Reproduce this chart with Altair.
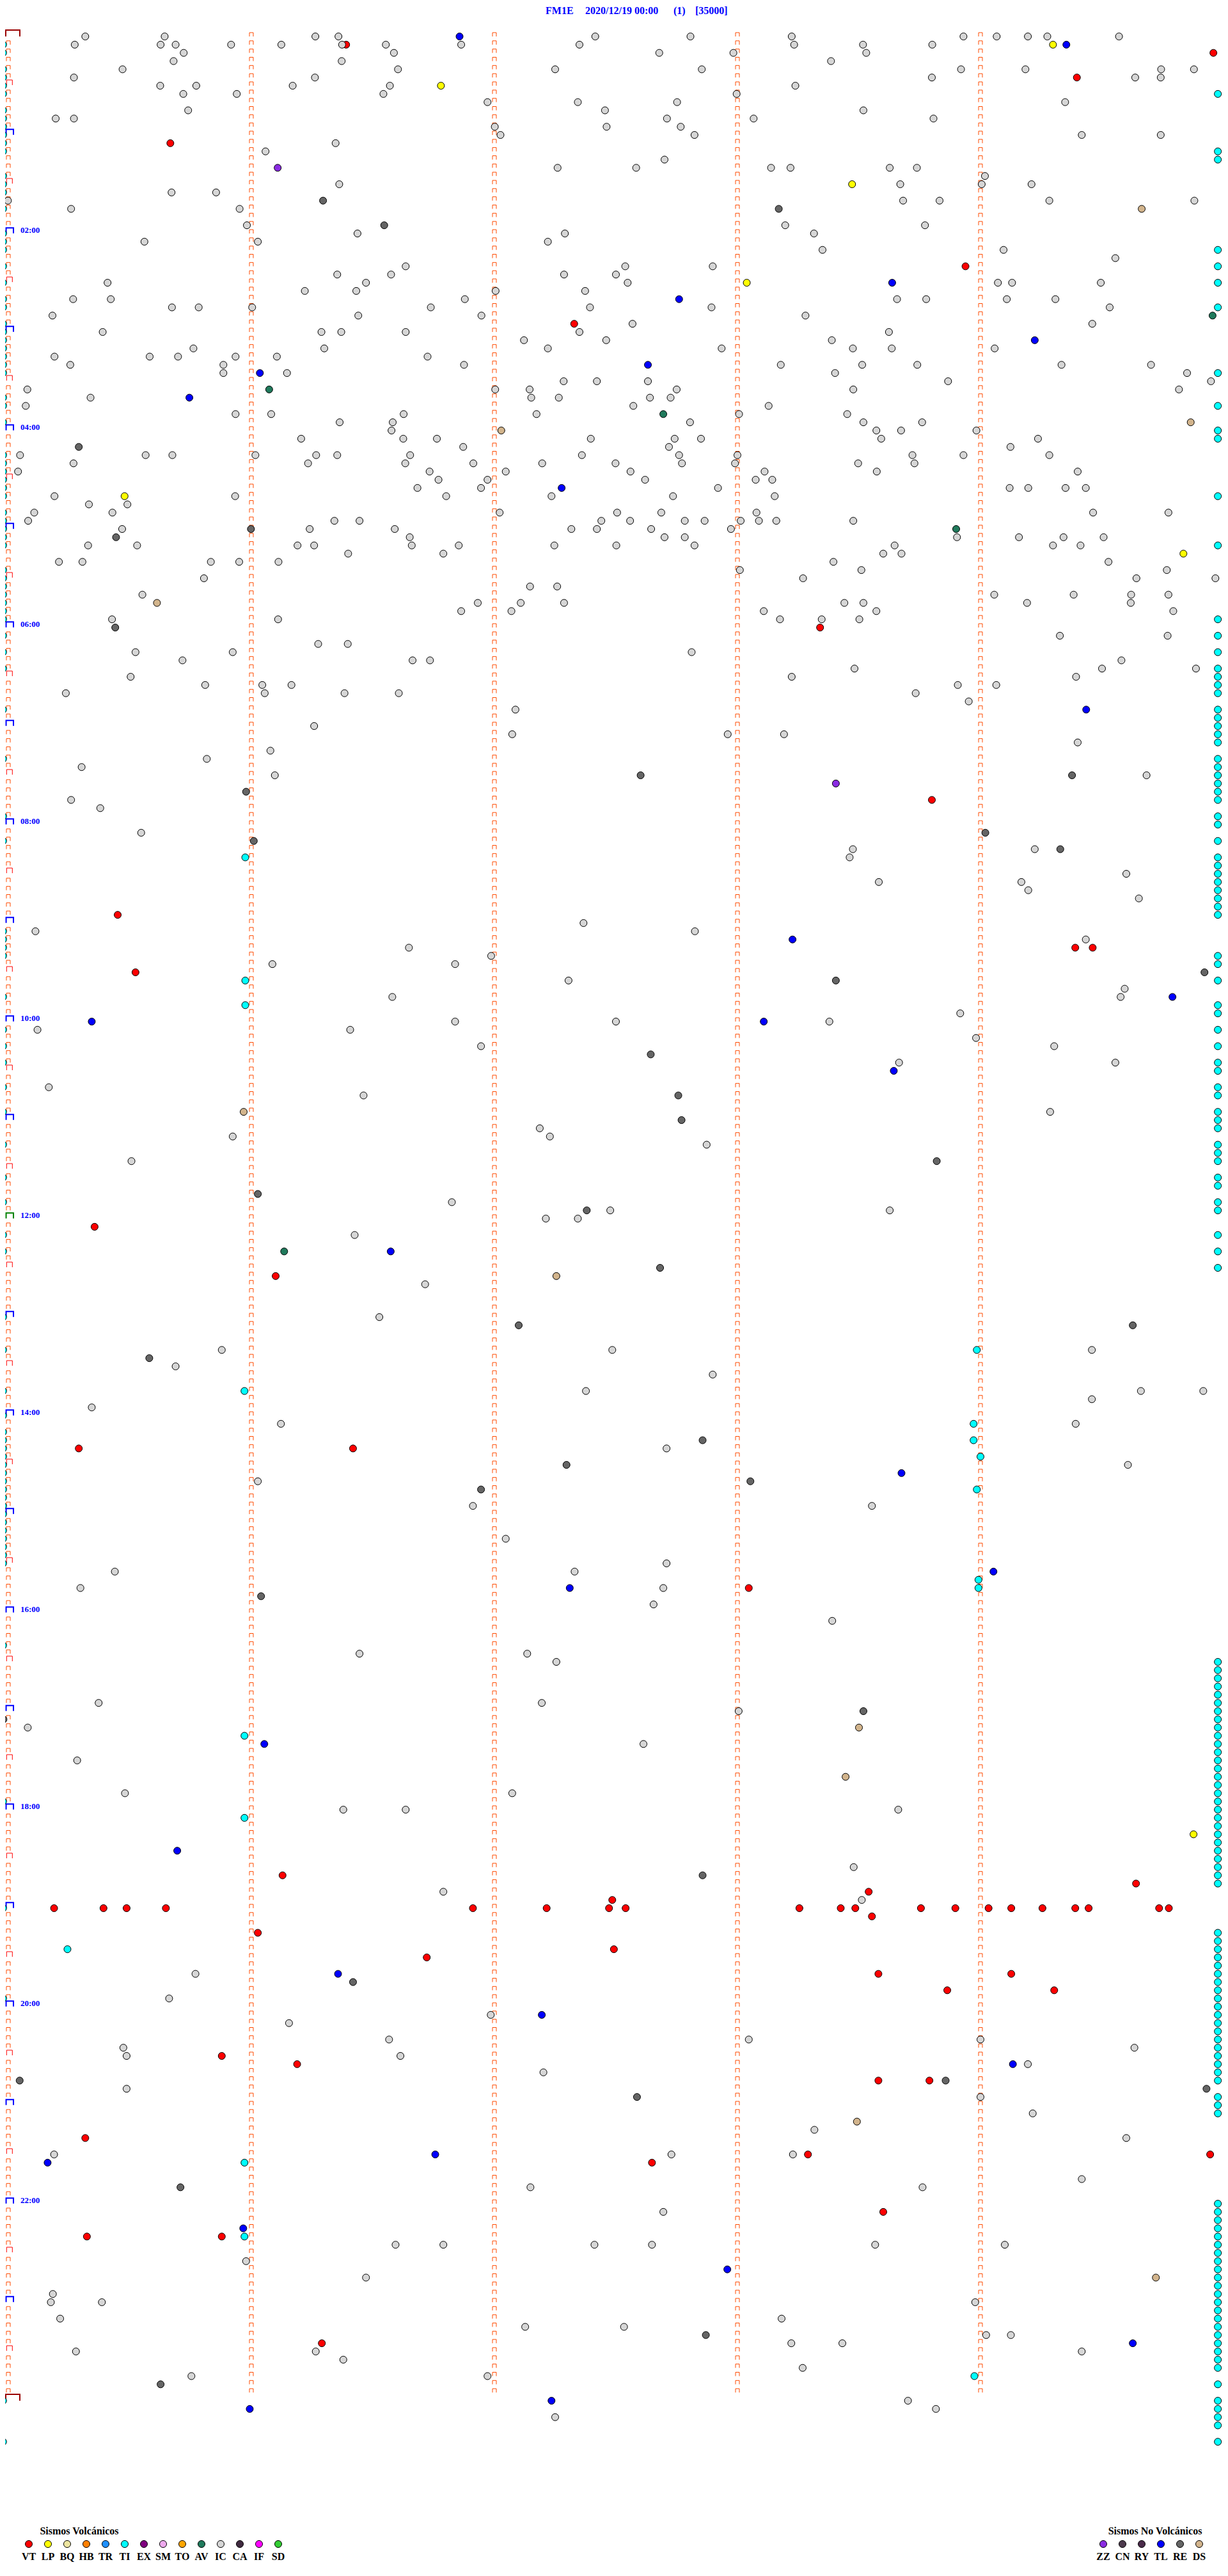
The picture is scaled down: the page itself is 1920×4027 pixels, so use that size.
import altair as alt
import pandas as pd

# ---------------- data: (row = 5-minute slot since 2020/12/19 00:00, sec = seconds inside the slot)
VT = [(1,83.4),(2,297.5),(5,263.8),(13,40.0),(28,236.3),(35,139.7),(72,200.4),(93,228.0),(107,27.0),
      (111,263.4),(111,267.7),(114,31.4),(145,21.3),(151,66.0),(172,17.4),(172,85.1),(189,182.8),
      (224,67.7),(225,278.4),(226,212.4),(227,149.1),(228,11.3),(228,23.5),(228,29.2),(228,38.9),
      (228,114.7),(228,132.9),(228,148.3),(228,152.4),(228,195.3),(228,205.5),(228,209.1),(228,225.3),
      (228,233.8),(228,242.0),(228,247.6),(228,255.3),(228,263.4),(228,266.7),(228,284.1),(228,286.5),
      (229,213.2),(231,61.6),(233,149.5),(234,103.3),(236,214.8),(236,247.6),(238,231.8),(238,258.2),
      (246,52.7),(247,71.3),(249,214.8),(249,227.4),(256,19.0),(258,197.4),(258,296.7),(259,158.9),
      (265,216.0),(268,19.4),(268,52.7),(281,77.4)]
LP = [(1,257.9),(6,106.8),(18,208.3),(30,182.3),(56,28.7),(63,290.1),(219,292.6)]
ZZ = [(16,66.5),(91,204.3)]
AV = [(34,297.3),(43,64.4),(46,161.7),(60,234.0),(148,68.1)]
DS = [(21,279.8),(47,291.9),(48,121.7),(69,36.7),(131,58.1),(151,135.3),(206,210.0),(212,206.7),
      (254,209.5),(273,283.3)]
TL = [(0,111.4),(1,261.2),(30,218.2),(32,165.6),(37,253.4),(40,157.9),(41,62.1),(44,44.7),(55,136.6),
      (82,266.1),(110,193.6),(117,287.4),(120,20.6),(120,186.5),(126,218.6),(148,94.4),(175,220.5),
      (187,243.2),(189,138.6),(208,63.2),(221,41.7),(236,81.4),(241,131.7),(247,248.0),(258,105.4),
      (259,9.7),(267,58.0),(272,177.5),(281,277.6),(288,134.1),(289,59.6)]
RE = [(20,77.7),(21,190.2),(23,92.8),(50,17.4),(60,59.9),(61,26.6),(72,26.4),(90,156.1),(90,262.6),
      (92,58.7),(97,241.2),(98,60.6),(99,259.7),(114,295.3),(115,204.3),(124,158.6),(129,165.4),
      (132,166.2),(137,229.2),(141,61.6),(143,142.8),(150,160.9),(157,126.0),(157,277.6),(161,34.8),
      (171,171.4),(174,137.8),(176,183.2),(177,116.7),(190,62.4),(204,211.1),(205,-1.2),(224,171.4),
      (237,85.1),(249,2.8),(249,231.4),(250,295.8),(251,155.2),(262,42.5),(280,172.2),(286,37.6)]
TI = [(100,58.5),(115,58.5),(118,58.5),(160,239.1),(165,58.3),(169,238.3),(171,238.3),(173,240.0),
      (177,239.1),(188,239.5),(189,239.5),(207,58.3),(217,58.3),(233,14.6),(259,58.3),(268,58.3),
      (285,238.5)]
TI_LEFT_SEC = -1.3
TI_RIGHT_SEC = 298.6
TI_LEFT_ROWS = [1,2,4,5,6,7,9,10,11,12,13,14,17,18,19,20,21,24,25,26,28,30,32,33,35,36,37,38,39,40,41,
                44,45,47,51,52,53,54,55,56,58,59,60,61,62,65,66,67,68,69,70,71,73,75,77,82,88,95,98,
                109,110,111,112,117,121,123,125,128,131,135,139,142,146,148,156,160,165,168,170,171,172,
                173,174,175,176,177,178,179,180,181,182,183,184,185,186,196,215,228,239,288,293]
TI_RIGHT_ROWS = [7,14,15,26,28,30,33,41,45,48,49,56,62,71,73,75,77,78,79,80,82,83,84,85,86,88,89,90,91,
                 92,93,95,96,98,100,101,102,103,104,105,106,107,112,113,115,118,119,121,123,125,126,128,
                 129,131,132,133,135,136,137,139,140,142,143,146,148,150,
                 198,199,200,201,202,203,204,205,206,207,208,209,210,211,212,213,214,215,216,217,218,219,
                 220,221,222,223,224,225,231,232,233,234,235,236,237,238,239,240,241,242,243,244,245,246,
                 247,248,249,251,252,253,264,265,266,267,268,269,270,271,272,273,274,275,276,277,278,279,
                 280,281,282,283,284,286,288,289,290,291,293]

IC_00_06 = [(0,19.0),(0,38.6),(0,75.8),(0,81.5),(0,144.9),(0,168.4),(0,193.4),(0,235.8),(0,244.0),(0,251.7),
    (0,256.5),(0,274.2),(1,16.4),(1,37.6),(1,41.3),(1,55.0),(1,67.4),(1,82.4),(1,93.2),(1,111.8),(1,141.0),
    (1,194.0),(1,211.0),(1,228.1),(2,43.3),(2,95.2),(2,160.7),(2,179.0),(2,211.8),(3,40.8),(3,82.3),(3,203.1),
    (4,28.2),(4,96.2),(4,135.0),(4,171.2),(4,235.2),(4,251.1),(4,284.6),(4,292.7),(5,16.2),(5,75.7),(5,228.0),
    (5,278.2),(5,284.5),(6,37.5),(6,46.4),(6,70.2),(6,94.2),(6,194.3),(7,43.2),(7,56.4),(7,92.6),(7,179.8),
    (8,118.3),(8,140.6),(8,165.1),(8,260.9),(9,44.4),(9,147.3),(9,211.1),(10,11.7),(10,16.2),(10,162.6),
    (10,184.0),(10,228.4),(11,120.1),(11,147.7),(11,166.0),(12,121.5),(12,169.4),(12,265.0),(12,284.5),
    (13,80.8),(14,63.5),(15,162.0),(16,135.6),(16,155.0),(16,188.3),(16,193.1),(16,217.6),(16,224.3),
    (17,241.1),(18,81.7),(18,220.2),(18,240.3),(18,252.6),(19,40.3),(19,51.3),(20,-0.1),(20,220.9),
    (20,229.9),(20,257.0),(20,292.8),(21,15.5),(21,57.1),(23,58.9),(23,191.8),(23,226.3),(24,86.2),
    (24,137.4),(24,198.9),(25,33.6),(25,61.6),(25,133.2),(26,201.0),(26,245.7),(27,273.3),(28,98.1),
    (28,152.3),(28,173.9),(29,81.2),(29,94.5),(29,137.2),(29,150.0),(30,24.5),(30,88.3),(30,152.9),
    (30,244.3),(30,247.8),(30,269.7),(31,73.2),(31,85.9),(31,120.3),(31,142.4),(32,16.0),(32,25.3),
    (32,112.7),(32,219.4),(32,226.6),(32,246.5),(32,258.5),(33,40.4),(33,47.0),(33,60.2),(33,104.3),
    (33,143.6),(33,173.6),(33,271.9),(34,10.9),(34,86.4),(34,116.8),(34,196.8),(35,154.1),(35,267.6),
    (36,23.3),(36,77.3),(36,82.2),(36,98.1),(36,141.0),(36,217.4),(37,127.3),(37,147.6),(37,203.3),
    (38,45.7),(38,78.0),(38,133.2),(38,176.1),(38,208.5),(38,218.1),(38,243.5),(39,11.4),(39,34.9),
    (39,41.9),(39,56.1),(39,66.3),(39,103.5),(40,15.3),(40,53.1),(40,112.5),(40,190.7),(40,210.8),
    (40,224.4),(40,260.0),(40,282.1),(41,53.1),(41,68.8),(41,204.1),(41,291.0),(42,137.1),(42,145.3),
    (42,157.9),(42,232.0),(42,296.9),(43,4.7),(43,120.2),(43,128.7),(43,165.0),(43,208.6),(43,289.0),
    (44,20.3),(44,129.1),(44,135.9),(44,158.4),(44,163.5),(45,4.3),(45,154.3),(45,187.7),(46,56.1),
    (46,64.9),(46,97.6),(46,130.4),(46,180.4),(46,207.1),(47,81.8),(47,94.9),(47,168.3),(47,211.1),
    (47,225.6),(48,94.6),(48,214.3),(48,220.4),(48,239.0),(49,72.3),(49,97.5),(49,105.8),(49,143.8),
    (49,164.5),(49,171.0),(49,215.5),(49,254.2),(50,112.3),(50,163.1),(50,247.4),(51,2.9),(51,33.9),
    (51,40.5),(51,61.0),(51,76.0),(51,81.2),(51,99.2),(51,141.6),(51,165.6),(51,180.0),(51,223.2),
    (51,235.8),(51,257.0),(52,16.1),(52,74.0),(52,98.0),(52,114.8),(52,131.8),(52,149.9),(52,166.3),
    (52,179.4),(52,209.8),(52,223.7),(53,2.4),(53,104.0),(53,122.8),(53,153.6),(53,186.7),(53,214.4),
    (53,264.0),(54,106.2),(54,118.3),(54,157.2),(54,184.5),(54,188.6),(55,101.0),(55,116.7),(55,175.2),
    (55,247.2),(55,251.8),(55,261.0),(55,266.0),(56,11.4),(56,56.0),(56,108.1),(56,134.1),(56,164.1),
    (56,189.2),(57,19.9),(57,29.4),(58,6.4),(58,25.7),(58,121.3),(58,150.3),(58,161.2),(58,184.7),
    (58,267.8),(58,286.4),(59,4.9),(59,80.5),(59,86.7),(59,146.4),(59,153.5),(59,167.0),(59,171.9),
    (59,180.8),(59,185.3),(59,189.6),(59,208.6),(60,28.1),(60,74.4),(60,95.4),(60,139.0),(60,145.3),
    (60,158.7),(60,178.4),(61,99.1),(61,162.0),(61,167.0),(61,234.2),(61,249.5),(61,260.5),(61,270.4),
    (62,19.7),(62,31.8),(62,71.4),(62,75.5),(62,99.6),(62,111.2),(62,134.8),(62,150.1),(62,169.4),
    (62,218.8),(62,257.9),(62,264.7),(63,83.9),(63,107.4),(63,216.0),(63,220.5),(64,12.5),(64,18.3),
    (64,50.0),(64,57.0),(64,66.7),(64,203.7),(64,271.6),(65,180.6),(65,210.6),(65,286.0),(66,48.3),
    (66,196.2),(66,278.5),(66,298.0),(67,128.8),(67,135.5),(68,33.1),(68,243.4),(68,263.0),(68,277.2),
    (68,286.4),(69,115.9),(69,126.5),(69,137.2),(69,206.4),(69,211.1),(69,251.5),(69,277.1),(70,111.8),
    (70,124.2),(70,186.5),(70,214.3),(70,287.6),(71,25.6),(71,66.6),(71,190.5),(71,200.8),(71,210.1)]
IC_06_12 = [(73,259.6),(73,286.2),(74,76.5),(74,83.8),(75,31.4),(75,55.4),(75,168.7),(76,43.0),(76,99.8),
    (76,104.1),(76,274.8),(77,208.9),(77,270.0),(77,293.2),(78,30.2),(78,193.4),(78,263.6),(79,48.6),
    (79,62.7),(79,69.9),(79,234.4),(79,243.9),(80,14.2),(80,63.3),(80,83.0),(80,96.4),(80,224.0),
    (81,237.1),(82,125.2),(84,75.5),(85,124.4),(85,177.6),(85,191.5),(86,264.0),(87,64.7),(88,49.0),
    (89,18.1),(90,65.8),(90,281.0),(93,15.5),(94,22.7),(97,32.8),(99,208.5),(99,253.4),(100,207.7),
    (102,276.0),(103,214.9),(103,250.1),(104,251.8),(105,279.1),(108,142.0),(109,6.7),(109,169.5),
    (110,266.0),(111,98.9),(112,119.2),(113,65.2),(113,110.3),(115,138.3),(116,275.6),(117,94.8),
    (117,274.6),(119,235.0),(120,110.3),(120,150.0),(120,202.7),(121,7.2),(121,84.4),(122,238.9),
    (123,116.7),(123,258.2),(125,219.9),(125,273.3),(128,10.0),(129,87.7),(131,257.2),(133,131.2),
    (134,55.4),(134,133.7),(135,172.4),(137,30.4),(142,109.5),(143,148.6),(143,217.6)]
IC_12_18 = [(144,132.7),(144,140.6),(146,85.5),(152,102.9),(156,91.6),(160,52.7),(160,149.1),(160,267.5),
    (162,41.3),(163,173.9),(165,142.6),(165,279.6),(165,295.0),(166,267.5),(167,20.6),(169,67.3),
    (169,263.5),(172,162.5),(174,276.4),(176,61.6),(179,114.7),(179,213.2),(183,122.8),(186,162.5),
    (187,26.3),(187,139.8),(189,17.8),(189,161.7),(191,159.3),(193,203.4),(197,86.7),(197,128.1),
    (198,135.3),(203,22.3),(203,131.7),(204,180.3),(206,4.8),(208,156.8),(210,17.0),(214,28.8),(214,124.4)]
IC_18_24 = [(216,82.7),(216,98.1),(216,219.7),(223,208.7),(226,107.4),(227,210.7),(236,46.2),(239,39.7),
    (241,119.1),(242,69.3),(244,94.0),(244,182.8),(244,240.0),(245,28.4),(245,278.0),(246,29.2),(246,96.8),
    (247,251.7),(248,132.1),(250,29.2),(251,240.0),(253,252.9),(255,199.0),(256,276.0),(258,11.3),
    (258,163.7),(258,193.7),(261,265.0),(262,128.9),(262,225.7),(265,161.7),(269,95.6),(269,107.4),
    (269,144.7),(269,158.9),(269,214.0),(269,246.0),(271,58.7),(273,88.3),(275,11.0),(276,10.5),(276,23.1),
    (276,238.7),(278,12.8),(278,190.9),(279,127.6),(279,152.0),(280,241.4),(280,247.5),(281,193.3),
    (281,205.9),(282,16.7),(282,75.9),(282,265.0),(283,82.7),(284,196.1),(285,45.2),(285,118.3),
    (288,222.1),(289,229.0),(290,135.0)]

VOLC_CODES = ["VT","LP","BQ","HB","TR","TI","EX","SM","TO","AV","IC","CA","IF","SD"]
VOLC_COLORS = ["#FF0000","#FFFF00","#EEE6A0","#FF8000","#1E90FF","#00FFFF","#800080","#EEAAEE",
               "#FFA500","#207A5C","#D6D6D6","#402A40","#FF00FF","#32CD32"]
NONV_CODES = ["ZZ","CN","RY","TL","RE","DS"]
NONV_COLORS = ["#8A2BE2","#4D3A4D","#4A2A4A","#0000FF","#656565","#D2B48C"]
HOUR_LABELS = ["02:00","04:00","06:00","08:00","10:00","12:00","14:00","16:00","18:00","20:00","22:00"]
TITLE_PARTS = ["FM1E", "2020/12/19 00:00", "(1)", "[35000]"]

# ---------------- geometry of the helicorder-like grid
W, H = 1904, 4011
PX_PER_SEC = 1900 / 300.0
ROW_PX = 77 / 6.0
N_GUIDE_ROWS = 288


def sec_at(page_x):
    return (page_x - 13) / PX_PER_SEC


def row_at(page_y):
    return (page_y - 57) / ROW_PX


xs = alt.Scale(domain=[sec_at(8), sec_at(8 + W)], nice=False, zero=False)
ys = alt.Scale(domain=[row_at(8), row_at(8 + H)], nice=False, zero=False, reverse=True)
X = alt.X("sec:Q", scale=xs, axis=None)
Y = alt.Y("row:Q", scale=ys, axis=None)
fill_scale = alt.Scale(domain=VOLC_CODES + NONV_CODES, range=VOLC_COLORS + NONV_COLORS)

# ---------------- events table (drawing order: VT, TI, IC, others)
recs = []
def add(code, pts):
    for r, s in pts:
        recs.append({"code": code, "row": r, "sec": s})

add("VT", VT)
add("TI", [(r, TI_LEFT_SEC) for r in TI_LEFT_ROWS])
add("TI", [(r, TI_RIGHT_SEC) for r in TI_RIGHT_ROWS])
add("TI", TI)
for blk in (IC_00_06, IC_06_12, IC_12_18, IC_18_24):
    add("IC", blk)
add("LP", LP); add("AV", AV); add("ZZ", ZZ); add("RE", RE); add("DS", DS); add("TL", TL)
events = pd.DataFrame(recs)

circles = alt.Chart(events).mark_circle(size=121, stroke="black", strokeWidth=1, opacity=1).encode(
    x=X, y=Y, fill=alt.Fill("code:N", scale=fill_scale, legend=None))

# ---------------- dotted minute guides (small open brackets) and time brackets
small = [{"row": r, "sec": 60.0 * m} for r in range(N_GUIDE_ROWS) for m in (1, 2, 3, 4)]
small += [{"row": r, "sec": 0.0} for r in range(N_GUIDE_ROWS) if r % 6 != 0]
half_rows = [{"row": r, "sec": 0.0} for r in range(N_GUIDE_ROWS) if r % 12 == 6]
hour_rows = [{"row": r, "sec": 0.0} for r in range(12, N_GUIDE_ROWS, 12) if r != 144]
noon_rows = [{"row": 144, "sec": 0.0}]
day_rows = [{"row": 0, "sec": 0.0}, {"row": 288, "sec": 0.0}]


def bracket(rows, ratio, size, color, sw, dx, dy):
    path = f"M-1,{ratio}L-1,-{ratio}L1,-{ratio}L1,{ratio}"
    return alt.Chart(pd.DataFrame(rows)).mark_point(
        shape=path, size=size, filled=False, stroke=color, color=color, strokeWidth=sw,
        opacity=1, xOffset=dx, yOffset=dy).encode(x=X, y=Y)

g_small = bracket(small, 1, 36, "#FF4A00", 1, 0, -3)
g_half = bracket(half_rows, 0.889, 81, "#FF0000", 1, 1.8, -5)
g_hour = bracket(hour_rows, 0.74, 132, "#0000FF", 2, 2.3, -4.5)
g_noon = bracket(noon_rows, 0.74, 132, "#008000", 2, 2.3, -4.5)
g_day = bracket(day_rows, 0.4545, 484, "#990000", 2, 7, -5)

# ---------------- hour labels
lab = pd.DataFrame({"label": HOUR_LABELS,
                    "row": [12 * int(h[:2]) for h in HOUR_LABELS],
                    "sec": [sec_at(32)] * len(HOUR_LABELS)})
hour_text = alt.Chart(lab).mark_text(align="left", baseline="alphabetic", dy=-1, font="Liberation Serif",
                                     fontSize=13, fontWeight="bold", color="#0000FF").encode(
    x=X, y=Y, text="label:N")

# ---------------- title (kept just inside the drawable area)
title_df = pd.DataFrame({"label": TITLE_PARTS,
                         "sec": [sec_at(p) for p in (853, 915, 1053, 1087)],
                         "row": [row_at(21.5)] * 4})
title = alt.Chart(title_df).mark_text(align="left", baseline="alphabetic", font="Liberation Serif",
                                      fontSize=16, fontWeight="bold", color="#0000FF").encode(
    x=X, y=Y, text="label:N")

# ---------------- custom legend at the bottom
leg = []
for i, c in enumerate(VOLC_CODES):
    leg.append({"code": c, "sec": sec_at(45 + 30 * i)})
for i, c in enumerate(NONV_CODES):
    leg.append({"code": c, "sec": sec_at(1725 + 30 * i)})
leg = pd.DataFrame(leg)
leg["row"] = row_at(3977)
leg["lrow"] = row_at(4002)
leg_dots = alt.Chart(leg).mark_circle(size=121, stroke="black", strokeWidth=1, opacity=1).encode(
    x=X, y=Y, fill=alt.Fill("code:N", scale=fill_scale, legend=None))
leg_text = alt.Chart(leg).mark_text(align="center", baseline="alphabetic", font="Liberation Serif",
                                    fontSize=16, fontWeight="bold", color="black").encode(
    x=X, y=alt.Y("lrow:Q", scale=ys, axis=None), text="code:N")
leg_titles = alt.Chart(pd.DataFrame({
    "label": ["Sismos Volcánicos", "Sismos No Volcánicos"],
    "sec": [sec_at(124), sec_at(1806)],
    "row": [row_at(3962), row_at(3962)]})).mark_text(
    align="center", baseline="alphabetic", font="Liberation Serif", fontSize=16, fontWeight="bold",
    color="black").encode(x=X, y=Y, text="label:N")

chart = alt.layer(g_small, g_half, g_hour, g_noon, g_day, hour_text, title, circles,
                  leg_dots, leg_text, leg_titles).properties(
    width=W, height=H, padding=0, autosize=alt.AutoSizeParams(type="none"),
    background="white").configure_view(strokeWidth=0)

chart.save("out.html", embed_options={"renderer": "svg", "actions": False})
